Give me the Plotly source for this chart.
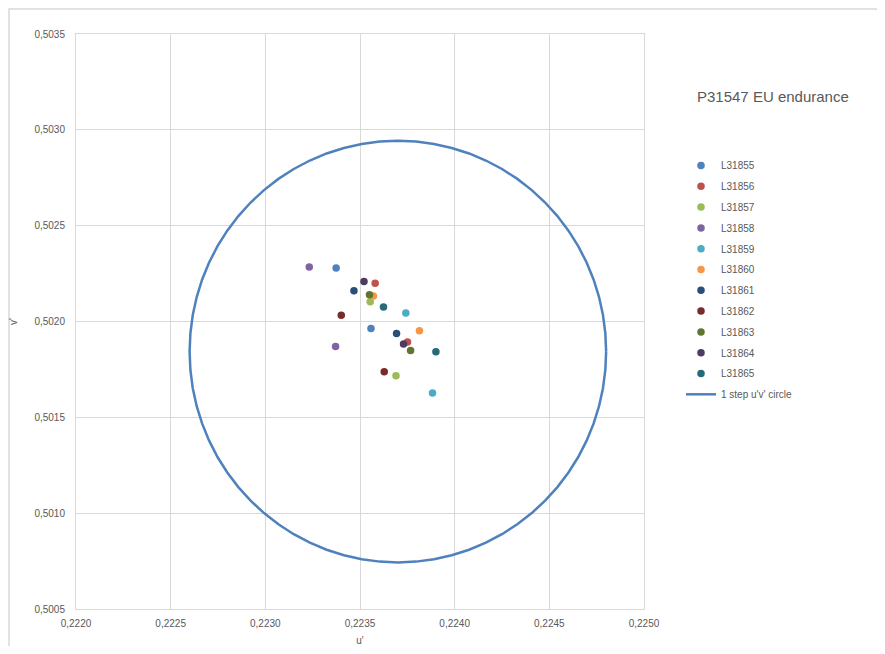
import numpy as np
import plotly.graph_objects as go

series_names = ["L31855", "L31856", "L31857", "L31858", "L31859", "L31860",
                "L31861", "L31862", "L31863", "L31864", "L31865"]
u_values = [
    [0.223374, 0.223558],
    [0.223580, 0.223751],
    [0.223554, 0.223690],
    [0.223232, 0.223371],
    [0.223742, 0.223883],
    [0.223571, 0.223814],
    [0.223468, 0.223693],
    [0.223401, 0.223628],
    [0.223550, 0.223767],
    [0.223521, 0.223730],
    [0.223624, 0.223901],
]
v_values = [
    [0.502279, 0.501964],
    [0.502199, 0.501893],
    [0.502103, 0.501717],
    [0.502284, 0.501869],
    [0.502044, 0.501627],
    [0.502133, 0.501952],
    [0.502161, 0.501938],
    [0.502032, 0.501738],
    [0.502140, 0.501849],
    [0.502209, 0.501883],
    [0.502076, 0.501842],
]
colors = ["#4F81BD", "#C0504D", "#9BBB59", "#8064A2", "#4BACC6", "#F79646",
          "#2C4D75", "#772C2A", "#5F7530", "#4D3B62", "#276A7C"]

circle_center_u = 0.22370
circle_center_v = 0.501843
circle_radius = 0.0011
circle_name = "1 step u'v' circle"

title_text = "P31547 EU endurance"
x_title = "u'"
y_title = "v'"

fig = go.Figure()
for name, us, vs, c in zip(series_names, u_values, v_values, colors):
    fig.add_trace(go.Scatter(x=us, y=vs, mode="markers", name=name,
                             marker=dict(color=c, size=7.5), legendgroup=name))

theta = np.linspace(0, 2 * np.pi, 73)
fig.add_trace(go.Scatter(x=circle_center_u + circle_radius * np.cos(theta),
                         y=circle_center_v + circle_radius * np.sin(theta),
                         mode="lines", name=circle_name, legendgroup="circle",
                         line=dict(color="#4F81BD", width=2.5)))

# page body has an 8px margin; work in page coordinates and convert
OFF = 8
W, H = 885 - 2 * OFF, 654 - 2 * OFF
L, R, T, B = 76 - OFF, 644 - OFF, 34 - OFF, 609 - OFF
pw, ph = R - L, B - T

def px(x):
    return (x - OFF - L) / pw

def py(y):
    return (B - (y - OFF)) / ph

font_family = "Liberation Sans, Arial, sans-serif"
gray = "#595959"

fig.update_layout(
    width=W, height=H,
    margin=dict(l=L, r=W - R, t=T, b=H - B, pad=0, autoexpand=False),
    paper_bgcolor="white", plot_bgcolor="white",
    separators=",.",
    font=dict(family=font_family, size=10, color=gray),
    showlegend=True,
    legend=dict(x=px(681), y=py(151), xanchor="left", yanchor="top",
                font=dict(size=10, color=gray), tracegroupgap=1.8,
                bgcolor="rgba(0,0,0,0)", itemwidth=30),
    xaxis=dict(range=[0.2220, 0.2250], dtick=0.0005, tick0=0.2220, tickformat=".4f",
               showgrid=True, gridcolor="#D9D9D9", gridwidth=1,
               showline=True, linecolor="#D9D9D9", linewidth=1, mirror=True,
               zeroline=False, ticks="", ticklen=0, ticklabelstandoff=5,
               automargin=False,
               tickfont=dict(size=10, color=gray),
               title=dict(text=x_title, font=dict(size=10, color=gray), standoff=9)),
    yaxis=dict(range=[0.5005, 0.5035], dtick=0.0005, tick0=0.5005, tickformat=".4f",
               showgrid=True, gridcolor="#D9D9D9", gridwidth=1,
               showline=True, linecolor="#D9D9D9", linewidth=1, mirror=True,
               zeroline=False, ticks="", ticklen=0, ticklabelstandoff=8,
               automargin=False,
               tickfont=dict(size=10, color=gray),
               title=dict(text=y_title, font=dict(size=10, color=gray), standoff=14)),
    annotations=[dict(text=title_text, x=px(695), y=py(96), xref="paper", yref="paper",
                      xanchor="left", yanchor="middle", showarrow=False,
                      font=dict(size=15, color=gray, family=font_family))],
    shapes=[dict(type="rect", xref="paper", yref="paper",
                 x0=px(9), x1=px(900), y0=py(680), y1=py(9),
                 line=dict(color="#D9D9D9", width=1.5), fillcolor="rgba(0,0,0,0)",
                 layer="below")],
)

fig.write_html("out.html")
